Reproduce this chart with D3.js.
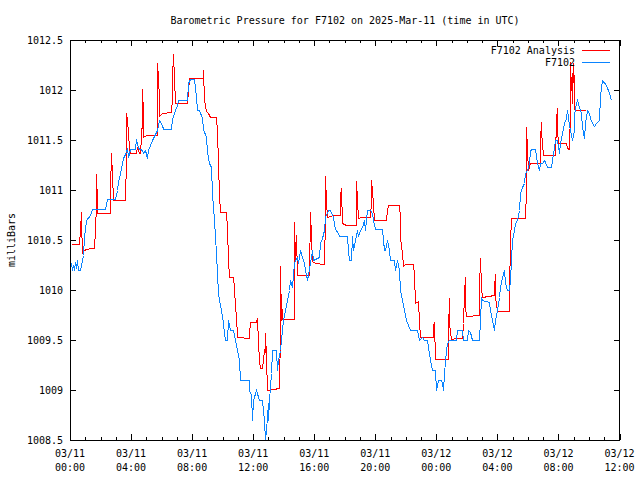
<!DOCTYPE html>
<html>
<head>
<meta charset="utf-8">
<script src="https://cdn.jsdelivr.net/npm/d3@7"></script>
<style>
	body { margin: 0; background: #fff; }
	text { font-family: "DejaVu Sans Mono", monospace; font-size: 10px; fill: #000; }
	path, line, rect { shape-rendering: crispEdges; }
</style>
</head>
<body>
<div id="container"></div>
<script>
// 1. Data (time in minutes after 2025-03-11 00:00 UTC, pressure in mbar)
const analysisTime = [4, 37, 38, 42, 44, 48, 55, 63, 81, 96, 98, 101, 103, 105, 107, 157, 159, 161, 164, 168,
	218, 219, 222, 224, 228, 232, 235, 260, 262, 273, 275, 282, 284, 287, 288, 299, 341, 342, 343, 346, 349, 351, 361,
	397, 400, 402, 406, 409, 412, 459, 468, 522, 524, 528, 535, 543, 551, 574, 577, 582, 586, 590, 614, 618, 622, 626,
	642, 646, 650, 654, 658, 702, 704, 709, 732, 735, 738, 742, 745, 755, 761, 765, 768, 770, 774, 823, 824, 826, 829,
	831, 834, 879, 880, 882, 886, 888, 892, 941, 945, 948, 951, 964, 999, 1002, 1004, 1007, 1010, 1032, 1060, 1063,
	1067, 1071, 1085, 1124, 1125, 1126, 1129, 1132, 1145, 1180, 1182, 1184, 1187, 1195, 1242, 1246, 1250, 1292, 1296,
	1299, 1305, 1309, 1318, 1348, 1352, 1356, 1366, 1370, 1374, 1425, 1427, 1429, 1435, 1484, 1486, 1488, 1491, 1498,
	1508, 1542, 1545, 1549, 1551, 1554, 1557, 1606, 1609, 1612, 1616, 1620, 1665, 1667, 1669, 1672, 1679, 1724, 1727,
	1731, 1734, 1790, 1791, 1793, 1795, 1799, 1810, 1846, 1848, 1850, 1853, 1858, 1908, 1911, 1913, 1915, 1919, 1948,
	1954, 1963, 1964, 1967, 1970, 1974, 1975, 1978, 1980, 1983, 1987, 2026]
const analysisValue = [1010.46, 1010.46, 1010.6, 1010.78, 1010.68, 1010.37, 1010.4, 1010.41, 1010.42, 1010.42, 1010.6,
	1010.87, 1011.16, 1010.87, 1010.77, 1010.77, 1011.0, 1011.37, 1011.15, 1010.9, 1010.9, 1011.32, 1011.77, 1011.7,
	1011.57, 1011.43, 1011.37, 1011.37, 1011.43, 1011.37, 1011.37, 1011.7, 1012.01, 1011.77, 1011.53, 1011.55, 1011.55,
	1011.9, 1012.27, 1012.13, 1011.9, 1011.74, 1011.77, 1011.78, 1011.92, 1012.12, 1012.36, 1012.12, 1011.87, 1011.87,
	1012.12, 1012.12, 1012.2, 1011.9, 1011.79, 1011.77, 1011.73, 1011.73, 1011.58, 1011.27, 1010.95, 1010.78, 1010.78,
	1010.62, 1010.3, 1010.13, 1010.13, 1010.03, 1009.82, 1009.75, 1009.53, 1009.52, 1009.57, 1009.68, 1009.68, 1009.72,
	1009.47, 1009.3, 1009.22, 1009.22, 1009.4, 1009.38, 1009.57, 1009.33, 1009.0, 1009.02, 1009.6, 1010.24, 1009.7,
	1009.93, 1009.71, 1009.71, 1010.15, 1010.68, 1010.3, 1010.55, 1010.15, 1010.15, 1010.78, 1010.53, 1010.29, 1010.27,
	1010.26, 1010.73, 1011.14, 1010.88, 1010.73, 1010.75, 1010.75, 1010.95, 1011.02, 1010.67, 1010.65, 1010.65, 1010.77,
	1011.09, 1010.9, 1010.72, 1010.73, 1010.73, 1010.9, 1011.1, 1011.0, 1010.7, 1010.7, 1010.8, 1010.85, 1010.85,
	1010.73, 1010.53, 1010.37, 1010.24, 1010.26, 1010.26, 1010.15, 1009.87, 1009.89, 1009.68, 1009.53, 1009.53, 1009.64,
	1009.68, 1009.31, 1009.31, 1009.6, 1009.92, 1009.67, 1009.5, 1009.52, 1009.52, 1009.67, 1009.97, 1010.13, 1009.83,
	1009.74, 1009.75, 1010.03, 1010.32, 1010.03, 1009.93, 1009.95, 1010.03, 1010.16, 1009.93, 1009.79, 1009.79, 1010.0,
	1010.48, 1010.72, 1010.72, 1011.0, 1011.63, 1011.4, 1011.2, 1011.27, 1011.27, 1011.5, 1011.68, 1011.58, 1011.35,
	1011.35, 1011.7, 1011.82, 1011.6, 1011.47, 1011.47, 1011.42, 1011.41, 1011.8, 1012.28, 1012.0, 1012.17, 1011.87,
	1012.27, 1012.05, 1011.82, 1011.8, 1011.8]

const observedTime = [4, 8, 12, 16, 20, 24, 28, 33, 39, 50, 55, 63, 79, 85, 138, 144, 177, 184, 190, 197, 203, 210,
	219, 223, 229, 236, 256, 260, 269, 282, 288, 295, 302, 308, 321, 341, 351, 361, 365, 396, 400, 413, 420, 426, 460,
	465, 472, 489, 496, 501, 509, 518, 524, 535, 540, 548, 554, 559, 564, 568, 573, 577, 583, 587, 593, 601, 607, 610,
	617, 623, 630, 642, 649, 658, 666, 669, 702, 704, 712, 717, 721, 732, 741, 754, 761, 767, 771, 778, 780, 784, 790,
	794, 810, 813, 817, 826, 833, 839, 846, 853, 859, 866, 872, 879, 885, 892, 898, 905, 912, 918, 925, 931, 942, 951,
	957, 977, 984, 990, 997, 1003, 1016, 1023, 1032, 1040, 1052, 1058, 1089, 1093, 1098, 1104, 1108, 1112, 1119, 1128,
	1134, 1141, 1148, 1154, 1161, 1167, 1180, 1187, 1193, 1200, 1226, 1233, 1239, 1246, 1252, 1259, 1272, 1279, 1285,
	1292, 1298, 1305, 1311, 1322, 1338, 1364, 1370, 1384, 1393, 1403, 1416, 1423, 1433, 1437, 1445, 1458, 1462, 1466,
	1471, 1477, 1482, 1488, 1519, 1521, 1541, 1543, 1561, 1565, 1574, 1580, 1606, 1610, 1616, 1621, 1646, 1652, 1659,
	1665, 1672, 1679, 1685, 1692, 1698, 1705, 1711, 1718, 1724, 1728, 1734, 1739, 1744, 1751, 1757, 1764, 1770, 1777,
	1783, 1790, 1797, 1803, 1810, 1816, 1829, 1836, 1842, 1849, 1856, 1862, 1869, 1876, 1889, 1895, 1902, 1908, 1915,
	1921, 1928, 1934, 1941, 1948, 1954, 1961, 1967, 1974, 1980, 1983, 1987, 1993, 2000, 2007, 2013, 2020, 2026, 2033,
	2039, 2046, 2052, 2059, 2066, 2079, 2085, 2092, 2105, 2118, 2127]
const observedValue = [1010.27, 1010.2, 1010.25, 1010.2, 1010.28, 1010.22, 1010.3, 1010.2, 1010.2, 1010.35, 1010.53,
	1010.7, 1010.75, 1010.81, 1010.81, 1010.91, 1010.91, 1011.0, 1011.08, 1011.17, 1011.27, 1011.32, 1011.38, 1011.42,
	1011.33, 1011.41, 1011.41, 1011.51, 1011.42, 1011.4, 1011.37, 1011.4, 1011.32, 1011.4, 1011.5, 1011.6, 1011.7,
	1011.65, 1011.61, 1011.61, 1011.71, 1011.8, 1011.85, 1011.9, 1011.9, 1012.07, 1012.11, 1012.11, 1011.93, 1011.8,
	1011.8, 1011.72, 1011.61, 1011.53, 1011.38, 1011.27, 1011.23, 1010.97, 1010.83, 1010.7, 1010.37, 1010.17, 1009.97,
	1009.9, 1009.8, 1009.67, 1009.57, 1009.5, 1009.5, 1009.7, 1009.6, 1009.6, 1009.5, 1009.4, 1009.3, 1009.1, 1009.1,
	1009.0, 1008.95, 1008.7, 1008.9, 1009.0, 1008.9, 1008.9, 1008.7, 1008.5, 1008.6, 1008.87, 1008.7, 1008.9, 1009.17,
	1009.4, 1009.4, 1009.2, 1009.3, 1009.4, 1009.6, 1009.7, 1009.8, 1009.9, 1010.0, 1010.1, 1010.03, 1010.27, 1010.3,
	1010.33, 1010.27, 1010.4, 1010.33, 1010.27, 1010.2, 1010.1, 1010.27, 1010.4, 1010.3, 1010.33, 1010.47, 1010.52,
	1010.6, 1010.73, 1010.8, 1010.8, 1010.73, 1010.61, 1010.57, 1010.54, 1010.54, 1010.4, 1010.3, 1010.3, 1010.54,
	1010.4, 1010.5, 1010.6, 1010.54, 1010.6, 1010.63, 1010.7, 1010.6, 1010.8, 1010.8, 1010.77, 1010.7, 1010.61, 1010.61,
	1010.4, 1010.4, 1010.5, 1010.4, 1010.3, 1010.3, 1010.2, 1010.3, 1010.2, 1010.0, 1009.9, 1009.8, 1009.7, 1009.6,
	1009.6, 1009.5, 1009.53, 1009.5, 1009.5, 1009.3, 1009.2, 1009.2, 1009.0, 1009.1, 1009.1, 1009.07, 1009.0, 1009.17,
	1009.4, 1009.47, 1009.5, 1009.5, 1009.6, 1009.6, 1009.5, 1009.5, 1009.6, 1009.58, 1009.5, 1009.5, 1009.7, 1009.93,
	1009.9, 1009.88, 1009.8, 1009.7, 1009.6, 1009.7, 1009.8, 1009.93, 1010.03, 1010.13, 1010.2, 1010.07, 1010.0, 1010.0,
	1010.1, 1010.3, 1010.5, 1010.6, 1010.67, 1010.7, 1010.8, 1010.97, 1011.03, 1011.07, 1011.17, 1011.2, 1011.27, 1011.4,
	1011.41, 1011.41, 1011.27, 1011.2, 1011.27, 1011.27, 1011.3, 1011.28, 1011.23, 1011.23, 1011.3, 1011.43, 1011.5,
	1011.5, 1011.37, 1011.47, 1011.57, 1011.67, 1011.72, 1011.8, 1011.65, 1011.6, 1011.5, 1011.6, 1011.73, 1011.83,
	1011.9, 1011.83, 1011.77, 1011.63, 1011.52, 1011.67, 1011.8, 1011.77, 1011.72, 1011.67, 1011.64, 1011.67, 1011.7,
	1011.95, 1012.1, 1012.05, 1011.97, 1011.9]

const yTicks = [1008.5, 1009, 1009.5, 1010, 1010.5, 1011, 1011.5, 1012, 1012.5]
const seriesNames = ["F7102 Analysis", "F7102"]
const seriesColors = ["#ff0000", "#0a84ff"]

// 2. Dimensions
const width = 640
const height = 480
const margin = { top: 40, right: 20.5, bottom: 40, left: 70 }

const start = new Date(Date.UTC(2025, 2, 11, 0, 0))
const end = new Date(Date.UTC(2025, 2, 12, 12, 0))
const toDate = m => new Date(start.getTime() + m * 60000)

const analysis = analysisTime.map((t, i) => ({ date: toDate(t), value: analysisValue[i] }))
const observed = observedTime.map((t, i) => ({ date: toDate(t), value: observedValue[i] }))

// 3. Canvas
const svg = d3.select("#container")
	.append("svg")
	.attr("width", width)
	.attr("height", height)

// 4. Scales
const x = d3.scaleUtc()
	.domain([start, end])
	.range([margin.left, width - margin.right])

const y = d3.scaleLinear()
	.domain([1008.5, 1012.5])
	.range([height - margin.bottom, margin.top])

// 5. Data lines
const line = d3.line()
	.x(d => Math.round(x(d.date)) + 0.5)
	.y(d => Math.round(y(d.value)) + 0.5)

svg.append("path")
	.datum(analysis)
	.attr("d", line)
	.attr("fill", "none")
	.attr("stroke", seriesColors[0])
	.attr("stroke-width", 1)

svg.append("path")
	.datum(observed)
	.attr("d", line)
	.attr("fill", "none")
	.attr("stroke", seriesColors[1])
	.attr("stroke-width", 1)

// 6. Axes and peripherals
const fmtY = d => Number.isInteger(d) ? d : d.toFixed(1)
const plotW = width - margin.left - margin.right
const plotH = height - margin.top - margin.bottom

const yLeft = svg.append("g")
	.attr("transform", `translate(${margin.left},0)`)
	.call(d3.axisLeft(y).tickValues(yTicks).tickFormat(fmtY).tickSizeInner(-6).tickSizeOuter(0).tickPadding(7))
svg.append("g")
	.attr("transform", `translate(${width - margin.right},0)`)
	.call(d3.axisRight(y).tickValues(yTicks).tickFormat("").tickSizeInner(-6).tickSizeOuter(0))

const hourly = d3.utcHour.every(1).range(start, d3.utcHour.offset(end, 1))
const fourly = d3.utcHour.every(4).range(start, d3.utcHour.offset(end, 1))

svg.append("g")
	.attr("transform", `translate(0,${height - margin.bottom})`)
	.call(d3.axisBottom(x).tickValues(hourly).tickFormat("").tickSizeInner(-3).tickSizeOuter(0))
svg.append("g")
	.attr("transform", `translate(0,${margin.top})`)
	.call(d3.axisTop(x).tickValues(hourly).tickFormat("").tickSizeInner(-3).tickSizeOuter(0))
svg.append("g")
	.attr("transform", `translate(0,${height - margin.bottom})`)
	.call(d3.axisBottom(x).tickValues(fourly).tickFormat("").tickSizeInner(-6).tickSizeOuter(0))
svg.append("g")
	.attr("transform", `translate(0,${margin.top})`)
	.call(d3.axisTop(x).tickValues(fourly).tickFormat("").tickSizeInner(-6).tickSizeOuter(0))

svg.selectAll(".domain").remove()
svg.selectAll(".tick line").attr("stroke", "#000")
yLeft.selectAll("text").attr("font-family", null).attr("font-size", null)

// two-line time labels
const labels = svg.append("g")
	.selectAll("text")
	.data(fourly)
	.join("text")
	.attr("x", d => x(d))
	.attr("y", height - margin.bottom + 17)
	.attr("text-anchor", "middle")
labels.append("tspan").attr("x", d => x(d)).text(d3.utcFormat("%m/%d"))
labels.append("tspan").attr("x", d => x(d)).attr("dy", 14).text(d3.utcFormat("%H:%M"))

// frame
svg.append("rect")
	.attr("x", margin.left + 0.5)
	.attr("y", margin.top + 0.5)
	.attr("width", plotW - 1)
	.attr("height", plotH)
	.attr("fill", "none")
	.attr("stroke", "#000")

// title
svg.append("text")
	.attr("x", 345)
	.attr("y", 24)
	.attr("text-anchor", "middle")
	.text("Barometric Pressure for F7102 on 2025-Mar-11 (time in UTC)")

svg.append("text")
	.attr("transform", `translate(15,${margin.top + plotH / 2}) rotate(-90)`)
	.attr("text-anchor", "middle")
	.text("milliBars")

// legend
const legend = svg.append("g")
	.selectAll("g")
	.data(seriesNames)
	.join("g")
	.attr("transform", (d, i) => `translate(0,${50 + i * 12})`)
legend.append("text")
	.attr("x", 575)
	.attr("y", 4)
	.attr("text-anchor", "end")
	.text(d => d)
legend.append("line")
	.attr("x1", 582)
	.attr("x2", 610)
	.attr("y1", 0.5)
	.attr("y2", 0.5)
	.attr("stroke", (d, i) => seriesColors[i])
</script>
</body>
</html>
